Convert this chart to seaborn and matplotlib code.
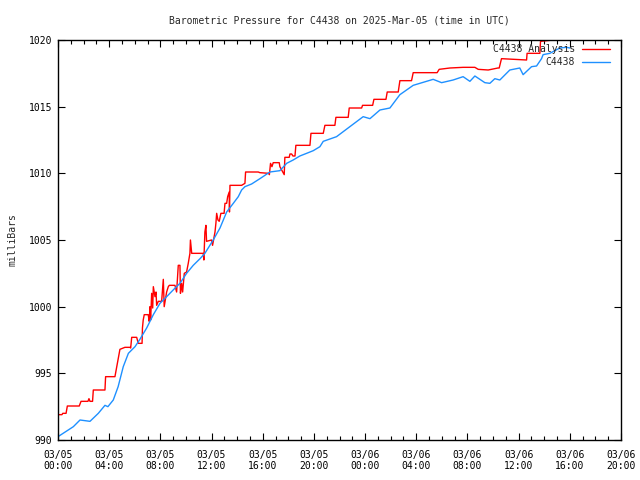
import pandas as pd
import matplotlib
matplotlib.use("Agg")
import matplotlib.pyplot as plt
import matplotlib.dates as mdates
import seaborn as sns

# hours after 2025-03-05 00:00 UTC, pressure in milliBars
obs_hours = [0.0, 1.2, 1.72, 2.5, 3.15, 3.67, 3.9, 4.32, 4.7, 5.1, 5.5, 6.02, 6.4,
             6.93, 7.45, 7.97, 8.49, 9.0, 9.53, 10.05, 10.57, 11.1, 11.48, 12.13,
             12.66, 13.18, 13.7, 14.09, 14.35, 14.61, 15.13, 15.78, 16.56, 17.34,
             17.87, 18.38, 18.9, 19.43, 19.95, 20.47, 20.73, 21.77, 22.81, 23.85,
             24.38, 25.16, 25.94, 26.72, 27.76, 28.8, 29.32, 29.98, 30.88, 31.66,
             32.19, 32.58, 33.36, 33.75, 34.14, 34.53, 35.31, 36.09, 36.35, 37.01,
             37.4, 37.79, 37.91, 38.44, 39.22, 39.74, 40.0]
obs_mb = [990.25, 991.0, 991.5, 991.4, 992.0, 992.6, 992.5, 993.0, 994.0, 995.5,
          996.5, 997.0, 997.55, 998.4, 999.4, 1000.25, 1000.75, 1001.25, 1001.75,
          1002.5, 1003.1, 1003.6, 1004.0, 1005.0, 1005.9, 1007.1, 1007.75, 1008.25,
          1008.75, 1009.0, 1009.2, 1009.6, 1010.1, 1010.2, 1010.75, 1011.0, 1011.3,
          1011.5, 1011.7, 1012.0, 1012.4, 1012.75, 1013.5, 1014.25, 1014.1, 1014.75,
          1014.9, 1015.9, 1016.6, 1016.9, 1017.05, 1016.8, 1017.0, 1017.25, 1016.9,
          1017.3, 1016.8, 1016.75, 1017.1, 1017.0, 1017.75, 1017.9, 1017.4, 1018.0,
          1018.05, 1018.6, 1018.9, 1019.0, 1019.4, 1019.45, 1019.4]

ana_hours = [0.0, 0.31, 0.37, 0.63, 0.73, 1.66, 1.8, 2.34, 2.42, 2.5, 2.7, 2.76,
             3.67, 3.72, 4.45, 4.59, 4.84, 5.23, 5.63, 5.68, 5.76, 6.15, 6.27, 6.57,
             6.6, 6.66, 6.74, 7.05, 7.13, 7.19, 7.24, 7.32, 7.4, 7.45, 7.58, 7.66,
             7.71, 7.84, 8.1, 8.23, 8.3, 8.49, 8.62, 8.7, 9.14, 9.27, 9.4, 9.53, 9.57,
             9.66, 9.74, 9.87, 10.05, 10.18, 10.31, 10.35, 10.45, 11.35, 11.4, 11.48,
             11.56, 11.61, 12.0, 12.08, 12.27, 12.34, 12.4, 12.5, 12.6, 12.73, 12.98,
             13.05, 13.18, 13.26, 13.38, 13.4, 13.44, 14.35, 14.61, 14.66, 15.65,
             15.78, 16.48, 16.52, 16.61, 16.72, 16.82, 17.29, 17.34, 17.68, 17.73,
             18.07, 18.13, 18.26, 18.36, 18.52, 18.59, 19.69, 19.77, 20.73, 20.86,
             21.64, 21.72, 22.68, 22.76, 23.73, 23.8, 24.59, 24.69, 25.63, 25.73,
             26.59, 26.72, 27.63, 27.76, 29.63, 29.79, 30.63, 31.66, 32.58, 32.84,
             33.62, 34.38, 34.48, 34.66, 35.57, 36.62, 36.66, 37.66, 37.71, 38.7]
ana_mb = [991.9, 991.9, 992.0, 992.0, 992.55, 992.55, 992.9, 992.9, 993.1, 992.9,
          992.9, 993.75, 993.75, 994.75, 994.75, 995.5, 996.8, 996.95, 996.95, 996.9,
          997.7, 997.7, 997.25, 997.25, 998.4, 999.0, 999.4, 999.4, 998.9, 1000.0,
          999.0, 1001.0, 999.9, 1001.5, 1000.75, 1001.1, 1000.1, 1000.4, 1000.4,
          1002.05, 1000.0, 1001.1, 1001.5, 1001.6, 1001.6, 1001.1, 1003.1, 1003.1,
          1001.0, 1001.75, 1001.1, 1002.5, 1002.6, 1003.25, 1004.0, 1005.0, 1004.0,
          1004.0, 1003.5, 1005.6, 1006.1, 1004.9, 1005.0, 1004.6, 1005.6, 1006.25,
          1007.0, 1006.5, 1006.4, 1007.0, 1007.0, 1007.75, 1007.75, 1008.25, 1008.6,
          1007.1, 1009.1, 1009.1, 1009.25, 1010.1, 1010.1, 1010.05, 1010.0, 1009.9,
          1010.75, 1010.5, 1010.8, 1010.8, 1010.5, 1009.9, 1011.2, 1011.2, 1011.45,
          1011.45, 1011.3, 1011.3, 1012.1, 1012.1, 1013.0, 1013.0, 1013.6, 1013.6,
          1014.2, 1014.2, 1014.9, 1014.9, 1015.1, 1015.1, 1015.55, 1015.55, 1016.1,
          1016.1, 1016.95, 1016.95, 1017.55, 1017.55, 1017.8, 1017.9, 1017.95,
          1017.95, 1017.8, 1017.75, 1017.9, 1017.9, 1018.6, 1018.55, 1018.5, 1019.0,
          1019.0, 1019.9, 1020.0]

start = pd.Timestamp("2025-03-05 00:00")
df_obs = pd.DataFrame({"time": start + pd.to_timedelta(obs_hours, unit="h"), "mb": obs_mb})
df_ana = pd.DataFrame({"time": start + pd.to_timedelta(ana_hours, unit="h"), "mb": ana_mb})

sns.set_style("ticks")
plt.rcParams["font.family"] = ["DejaVu Sans Mono"]
plt.rcParams["font.size"] = 7

fig = plt.figure(figsize=(6.4, 4.8), dpi=100)
ax = fig.add_axes([58/640, 40/480, 563/640, 400/480])

sns.lineplot(data=df_ana, x="time", y="mb", ax=ax, color="#ff0000", lw=1.0,
             estimator=None, sort=False, label="C4438 Analysis")
sns.lineplot(data=df_obs, x="time", y="mb", ax=ax, color="#1e90ff", lw=1.0,
             estimator=None, sort=False, label="C4438")

ax.set_xlim(start, start + pd.Timedelta(hours=44))
ax.set_ylim(990, 1020)
ax.set_yticks([990, 995, 1000, 1005, 1010, 1015, 1020])
ax.xaxis.set_major_locator(mdates.HourLocator(byhour=range(0, 24, 4)))
ax.xaxis.set_minor_locator(mdates.HourLocator())
ax.xaxis.set_major_formatter(mdates.DateFormatter("%m/%d\n%H:%M"))
ax.tick_params(which="both", direction="in", top=True, right=True, colors="black",
               labelsize=7, width=0.8)
ax.tick_params(which="major", length=5)
ax.tick_params(axis="x", which="major", pad=7)
ax.tick_params(axis="y", which="major", pad=4)
ax.tick_params(which="minor", length=3)
for s in ax.spines.values():
    s.set_linewidth(1.0)
    s.set_color("black")

ax.set_xlabel("")
ax.set_ylabel("milliBars", fontsize=7)
ax.yaxis.set_label_coords(-0.072, 0.5)
ax.set_title("Barometric Pressure for C4438 on 2025-Mar-05 (time in UTC)", fontsize=7, pad=12)

ax.legend(loc="upper right", bbox_to_anchor=(0.9805, 0.99), frameon=False,
          markerfirst=False, borderaxespad=0, borderpad=0, handlelength=2.9,
          handletextpad=0.7, labelspacing=0.35, fontsize=7)

fig.savefig("out.png", dpi=100)
